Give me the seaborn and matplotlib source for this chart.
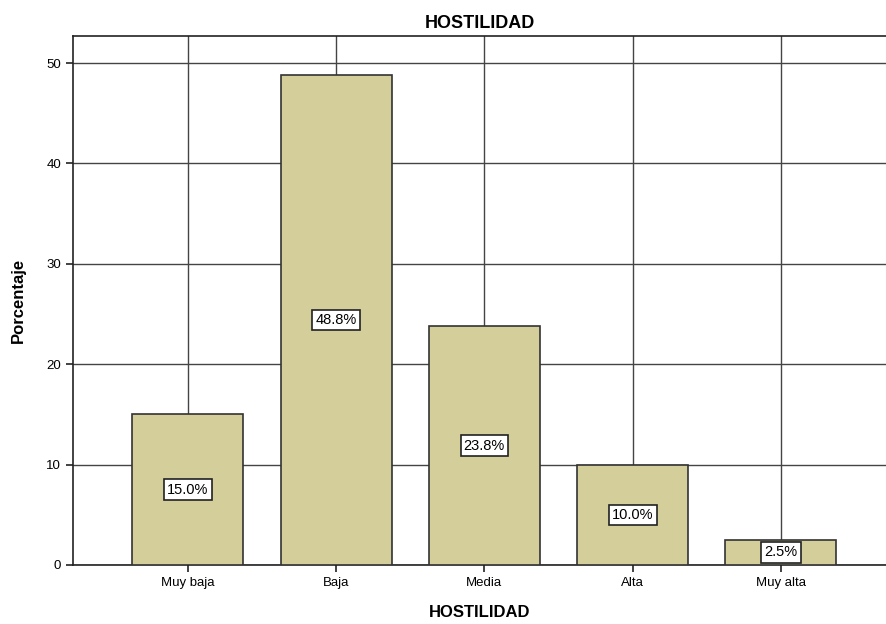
import matplotlib
matplotlib.use('Agg')
import matplotlib.pyplot as plt
import seaborn as sns
import pandas as pd

# Data
categories = ['Muy baja', 'Baja', 'Media', 'Alta', 'Muy alta']
percent = [15.0, 48.8, 23.8, 10.0, 2.5]
yticks = [0, 10, 20, 30, 40, 50]

df = pd.DataFrame({'HOSTILIDAD': categories, 'Porcentaje': percent})

sns.set_style('white')
plt.rcParams['font.family'] = ['Liberation Sans', 'DejaVu Sans']
plt.rcParams['text.color'] = 'black'
plt.rcParams['axes.labelcolor'] = 'black'
plt.rcParams['xtick.color'] = 'black'
plt.rcParams['ytick.color'] = 'black'

fig = plt.figure(figsize=(8.87, 6.24), dpi=100)
ax = fig.add_axes([0.0823, 0.0946, 0.9167, 0.8477])

sns.barplot(data=df, x='HOSTILIDAD', y='Porcentaje', color='#D3CE9A',
            edgecolor='#333333', linewidth=1.2, width=0.75, saturation=1, ax=ax, zorder=3)

ax.set_axisbelow(True)
ax.grid(True, color='#444444', linewidth=1.0, zorder=0)
ax.set_ylim(0, 52.7)
ax.set_xlim(-0.775, 4.71)
ax.set_yticks(yticks)

# percentage labels in white boxes, centred in each bar
for i, v in enumerate(percent):
    ax.text(i, v / 2, f'{v:.1f}%', ha='center', va='center', fontsize=10.5, zorder=5,
            color='black',
            bbox=dict(boxstyle='square,pad=0.22', facecolor='white', edgecolor='#222222', linewidth=1.2))

for s in ['left', 'bottom', 'top']:
    ax.spines[s].set_color('#222222')
    ax.spines[s].set_linewidth(1.2)
ax.spines['right'].set_visible(False)

ax.tick_params(axis='both', direction='out', length=5, width=1.2, color='#222222',
               labelsize=9.5, labelcolor='black', bottom=True, left=True)

ax.set_title('HOSTILIDAD', fontsize=13, fontweight='bold', pad=6, color='black')
ax.set_xlabel('HOSTILIDAD', fontsize=12, fontweight='bold', labelpad=12)
ax.set_ylabel('Porcentaje', fontsize=12, fontweight='bold', labelpad=15)

plt.savefig('out.png', dpi=100)
